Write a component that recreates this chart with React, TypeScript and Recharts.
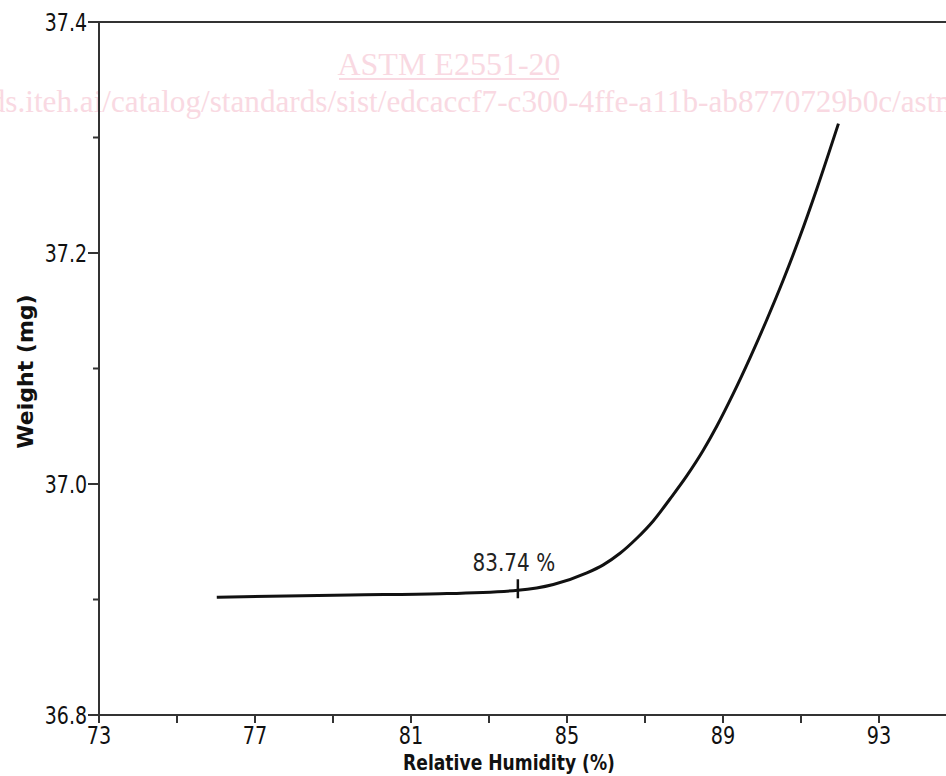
import React from "react";
import {
  LineChart,
  Line,
  XAxis,
  YAxis,
  ReferenceLine,
  ReferenceDot,
} from "recharts";

// Relative humidity (%) and sample weight (mg)
const rh = [
  76.02, 79.44, 81.74, 83.74, 84.65, 85.51, 85.93, 86.36, 86.79, 87.21, 87.64,
  88.07, 88.49, 88.84, 89.26, 89.69, 90.12, 90.55, 90.97, 91.4, 91.96,
];
const weight = [
  36.902, 36.904, 36.905, 36.908, 36.913, 36.923, 36.93, 36.94, 36.953,
  36.968, 36.987, 37.007, 37.029, 37.05, 37.078, 37.109, 37.142, 37.177,
  37.214, 37.255, 37.312,
];

const xTicks = [73, 75, 77, 79, 81, 83, 85, 87, 89, 91, 93, 95];
const xLabelTicks = [73, 77, 81, 85, 89, 93];
const yTicks = [36.8, 36.9, 37.0, 37.1, 37.2, 37.3, 37.4];
const yLabelTicks = [36.8, 37.0, 37.2, 37.4];

const markerRH = 83.74;
const markerWeight = 36.908;
const markerLabel = "83.74 %";

const xTitle = "Relative Humidity (%)";
const yTitle = "Weight (mg)";
const watermarkTitle = "ASTM E2551-20";
const watermarkUrl =
  "https://standards.iteh.ai/catalog/standards/sist/edcaccf7-c300-4ffe-a11b-ab8770729b0c/astm-e2551-20";

const data = rh.map((v, i) => ({ rh: v, weight: weight[i] }));

const AXIS = "#333";
const FONT = "'DejaVu Sans', Verdana, sans-serif";
const SERIF = "'Liberation Serif', 'Times New Roman', serif";
const PINK = "#f9d9e2";

const XTick = (props: any) => {
  const { x, y, payload } = props;
  const v = payload.value;
  const isMajor = xLabelTicks.some((t) => Math.abs(t - v) < 1e-6);
  return (
    <g>
      <line x1={x} y1={y} x2={x} y2={y + 8} stroke={AXIS} strokeWidth={2} />
      {isMajor && (
        <text
          transform={`translate(${x},${y + 29}) scale(0.8,1)`}
          textAnchor="middle"
          fontFamily={FONT}
          fontSize={24}
          fill="#111"
        >
          {String(v)}
        </text>
      )}
    </g>
  );
};

const YTick = (props: any) => {
  const { x, y, payload } = props;
  const v = payload.value;
  const isMajor = yLabelTicks.some((t) => Math.abs(t - v) < 1e-6);
  return (
    <g>
      <line
        x1={x - (isMajor ? 11 : 6)}
        y1={y}
        x2={x}
        y2={y}
        stroke={AXIS}
        strokeWidth={2}
      />
      {isMajor && (
        <text
          transform={`translate(${x - 12},${y + 9}) scale(0.76,1)`}
          textAnchor="end"
          fontFamily={FONT}
          fontSize={25}
          fill="#111"
        >
          {v.toFixed(1)}
        </text>
      )}
    </g>
  );
};

const XTitle = (props: any) => {
  const vb = props.viewBox || { x: 99, y: 715, width: 858 };
  const cx = vb.x + vb.width / 2 - 19;
  return (
    <text
      transform={`translate(${cx},${vb.y + 55}) scale(0.78,1)`}
      textAnchor="middle"
      fontFamily={FONT}
      fontWeight="bold"
      fontSize={22}
      fill="#111"
    >
      {xTitle}
    </text>
  );
};

const YTitle = (props: any) => {
  const vb = props.viewBox || { x: 0, y: 22, height: 693 };
  const cy = vb.y + vb.height / 2 + 3;
  return (
    <text
      transform={`translate(33,${cy}) rotate(-90)`}
      textAnchor="middle"
      fontFamily={FONT}
      fontWeight="bold"
      fontSize={22}
      fill="#111"
    >
      {yTitle}
    </text>
  );
};

const MarkerShape = (props: any) => {
  const { cx, cy } = props;
  return (
    <g>
      <line x1={cx} y1={cy - 11} x2={cx} y2={cy + 8} stroke="#111" strokeWidth={2.5} />
      <text
        transform={`translate(${cx - 4},${cy - 19}) scale(0.8,1)`}
        textAnchor="middle"
        fontFamily={FONT}
        fontSize={25}
        fill="#222"
      >
        {markerLabel}
      </text>
    </g>
  );
};

export default function App() {
  return (
    <div
      style={{
        position: "absolute",
        left: 0,
        top: 0,
        width: 946,
        height: 776,
        overflow: "hidden",
        background: "#fff",
      }}
    >
      <svg
        width={946}
        height={776}
        style={{ position: "absolute", left: 0, top: 0 }}
      >
        <text
          x={449}
          y={75}
          textAnchor="middle"
          fontFamily={SERIF}
          fontSize={32}
          fill={PINK}
        >
          {watermarkTitle}
        </text>
        <line x1={339} y1={79} x2={559} y2={79} stroke={PINK} strokeWidth={2} />
        <text
          x={-187}
          y={112}
          textAnchor="start"
          fontFamily={SERIF}
          fontSize={31.2}
          fill={PINK}
        >
          {watermarkUrl}
        </text>
      </svg>
      <div style={{ position: "absolute", left: 0, top: 0 }}>
        <LineChart
          width={960}
          height={776}
          data={data}
          margin={{ top: 22, right: 3, bottom: 0, left: 0 }}
        >
          <XAxis
            type="number"
            dataKey="rh"
            domain={[73, 95]}
            ticks={xTicks}
            interval={0}
            allowDataOverflow
            height={61}
            tickSize={0}
            tickMargin={0}
            tickLine={false}
            axisLine={{ stroke: AXIS, strokeWidth: 2 }}
            tick={<XTick />}
            label={<XTitle />}
          />
          <YAxis
            type="number"
            dataKey="weight"
            domain={[36.8, 37.4]}
            ticks={yTicks}
            interval={0}
            allowDataOverflow
            width={99}
            tickSize={0}
            tickMargin={0}
            tickLine={false}
            axisLine={{ stroke: AXIS, strokeWidth: 2 }}
            tick={<YTick />}
            label={<YTitle />}
          />
          <ReferenceLine y={37.4} stroke={AXIS} strokeWidth={2} />
          <Line
            type="monotone"
            dataKey="weight"
            stroke="#111"
            strokeWidth={3}
            dot={false}
            activeDot={false}
            isAnimationActive={false}
          />
          <ReferenceDot
            x={markerRH}
            y={markerWeight}
            r={0}
            shape={<MarkerShape />}
          />
        </LineChart>
      </div>
    </div>
  );
}
